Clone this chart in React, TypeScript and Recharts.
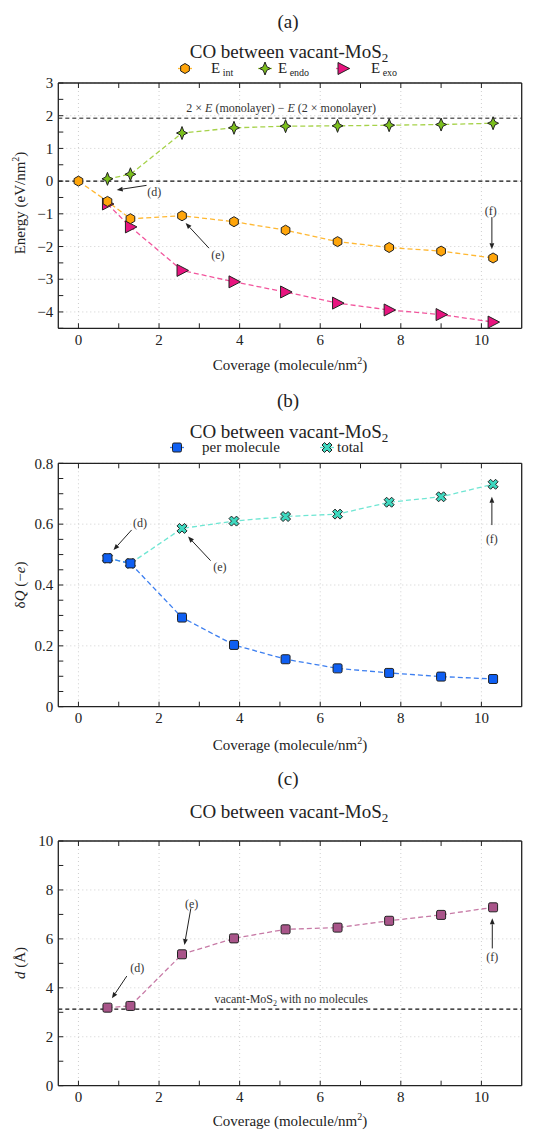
import React from "react";
import {
  LineChart,
  Line,
  XAxis,
  YAxis,
  CartesianGrid,
  ReferenceLine,
  ReferenceDot,
} from "recharts";

// ---- data ----
const coverage = [0, 0.72, 1.29, 2.57, 3.86, 5.14, 6.43, 7.71, 9.0, 10.29];
const eInt = [0, -0.62, -1.15, -1.06, -1.24, -1.5, -1.85, -2.03, -2.14, -2.35];
const eEndo = [null, 0.07, 0.21, 1.47, 1.63, 1.68, 1.69, 1.71, 1.73, 1.77];
const eExo = [null, -0.7, -1.4, -2.73, -3.08, -3.39, -3.73, -3.94, -4.08, -4.31];
const qPerMolecule = [null, 0.488, 0.471, 0.293, 0.203, 0.156, 0.126, 0.111, 0.099, 0.091];
const qTotal = [null, 0.488, 0.471, 0.586, 0.61, 0.625, 0.633, 0.672, 0.69, 0.731];
const distance = [null, 3.19, 3.26, 5.37, 6.02, 6.39, 6.46, 6.74, 6.98, 7.29];

const monolayerDiff = 1.92;
const vacantBaseline = 3.13;

const xTicks = [0, 1, 2, 3, 4, 5, 6, 7, 8, 9, 10];
const xGrid = [0, 2, 4, 6, 8, 10];
const energyTicks = [-4.5, -4, -3.5, -3, -2.5, -2, -1.5, -1, -0.5, 0, 0.5, 1, 1.5, 2, 2.5, 3];
const energyGrid = [-4, -3, -2, -1, 0, 1, 2, 3];
const chargeTicks = [0, 0.05, 0.1, 0.15, 0.2, 0.25, 0.3, 0.35, 0.4, 0.45, 0.5, 0.55, 0.6, 0.65, 0.7, 0.75, 0.8];
const chargeGrid = [0.2, 0.4, 0.6, 0.8];
const distTicks = [0, 1, 2, 3, 4, 5, 6, 7, 8, 9, 10];
const distGrid = [2, 4, 6, 8, 10];

// annotations: text position and arrow (from -> to), in data units
const annotA = [
  { label: "(d)", tx: 1.88, ty: -0.32, x1: 1.69, y1: -0.13, x2: 0.95, y2: -0.27 },
  { label: "(e)", tx: 3.46, ty: -2.25, x1: 3.24, y1: -2.05, x2: 2.66, y2: -1.28 },
  { label: "(f)", tx: 10.23, ty: -0.9, x1: 10.26, y1: -1.1, x2: 10.26, y2: -2.08 },
];
const annotB = [
  { label: "(d)", tx: 1.53, ty: 0.603, x1: 1.32, y1: 0.581, x2: 0.87, y2: 0.515 },
  { label: "(e)", tx: 3.51, ty: 0.46, x1: 3.28, y1: 0.48, x2: 2.72, y2: 0.559 },
  { label: "(f)", tx: 10.26, ty: 0.551, x1: 10.26, y1: 0.597, x2: 10.26, y2: 0.69 },
];
const annotC = [
  { label: "(d)", tx: 1.46, ty: 4.82, x1: 1.2, y1: 4.48, x2: 0.83, y2: 3.57 },
  { label: "(e)", tx: 2.81, ty: 7.43, x1: 2.79, y1: 7.25, x2: 2.63, y2: 5.75 },
  { label: "(f)", tx: 10.27, ty: 5.27, x1: 10.27, y1: 5.61, x2: 10.27, y2: 6.84 },
];

const rowsA = coverage.map((x, i) => ({ x, int: eInt[i], endo: eEndo[i], exo: eExo[i] }));
const rowsB = coverage.map((x, i) => ({ x, per: qPerMolecule[i], total: qTotal[i] }));
const rowsC = coverage.map((x, i) => ({ x, d: distance[i] }));

const FONT = '"Liberation Serif", "Times New Roman", serif';
const AX = "#222";

// ---- markers ----
const hexagon = (cx: number, cy: number, fill: string) => {
  const pts = [0, 1, 2, 3, 4, 5]
    .map((k) => {
      const a = ((-90 + 60 * k) * Math.PI) / 180;
      return `${cx + 5 * Math.cos(a)},${cy + 5 * Math.sin(a)}`;
    })
    .join(" ");
  return <polygon points={pts} fill={fill} stroke="#222" strokeWidth={1} />;
};
const star4 = (cx: number, cy: number, fill: string) => {
  const p = [
    [0, -6.5], [1.8, -1.8], [5.5, 0], [1.8, 1.8],
    [0, 6.5], [-1.8, 1.8], [-5.5, 0], [-1.8, -1.8],
  ];
  return (
    <polygon
      points={p.map(([a, b]) => `${cx + a},${cy + b}`).join(" ")}
      fill={fill}
      stroke="#222"
      strokeWidth={1}
      strokeLinejoin="round"
    />
  );
};
const triRight = (cx: number, cy: number, fill: string) => (
  <polygon
    points={`${cx - 5},${cy - 6} ${cx + 6.5},${cy} ${cx - 5},${cy + 6}`}
    fill={fill}
    stroke="#222"
    strokeWidth={1}
    strokeLinejoin="round"
  />
);
const square = (cx: number, cy: number, fill: string) => (
  <rect x={cx - 4.5} y={cy - 4.5} width={9} height={9} rx={1.5} fill={fill} stroke="#222" strokeWidth={1} />
);
const xcross = (cx: number, cy: number, fill: string) => {
  const p = [
    [-1, -2], [0, -1], [1, -2], [2, -1], [1, 0], [2, 1],
    [1, 2], [0, 1], [-1, 2], [-2, 1], [-1, 0], [-2, -1],
  ];
  return (
    <polygon
      points={p.map(([a, b]) => `${cx + a * 2.5},${cy + b * 2.5}`).join(" ")}
      fill={fill}
      stroke="#222"
      strokeWidth={1}
      strokeLinejoin="round"
    />
  );
};

const makeDot =
  (shape: (cx: number, cy: number, fill: string) => any, fill: string) => (props: any) => {
    const { cx, cy, index, value } = props;
    if (cx == null || cy == null || value == null) return <g key={`n${index}`} />;
    return <g key={`d${index}`}>{shape(cx, cy, fill)}</g>;
  };

// ---- ticks ----
const fmtNum = (v: number) => (v < 0 ? `\u2212${Math.abs(v)}` : `${v}`);
const isMultiple = (v: number, step: number) => Math.abs(v / step - Math.round(v / step)) < 1e-6;

const XTick = (props: any) => {
  const { x, y, payload } = props;
  if (!isMultiple(payload.value, 2)) return <g />;
  return (
    <text x={x} y={y} dy="0.71em" textAnchor="middle" fontSize={15} fontFamily={FONT} fill={AX}>
      {payload.value}
    </text>
  );
};
const makeYTick = (step: number) => (props: any) => {
  const { x, y, payload } = props;
  if (!isMultiple(payload.value, step)) return <g />;
  return (
    <text x={x} y={y} dy="0.35em" textAnchor="end" fontSize={15} fontFamily={FONT} fill={AX}>
      {fmtNum(payload.value)}
    </text>
  );
};
const NoTick = () => <g />;

const Arrow = (props: any) => {
  const { x1, y1, x2, y2 } = props;
  const ang = Math.atan2(y2 - y1, x2 - x1);
  const L = 6;
  const W = 2.4;
  const bx = x2 - L * Math.cos(ang);
  const by = y2 - L * Math.sin(ang);
  const px = -Math.sin(ang) * W;
  const py = Math.cos(ang) * W;
  return (
    <g>
      <line x1={x1} y1={y1} x2={bx} y2={by} stroke="#222" strokeWidth={1} />
      <polygon points={`${x2},${y2} ${bx + px},${by + py} ${bx - px},${by - py}`} fill="#222" />
    </g>
  );
};
const textShape = (label: any, size = 12) => (props: any) => (
  <text x={props.cx} y={props.cy} dy="0.35em" textAnchor="middle" fontSize={size} fontFamily={FONT} fill="#333">
    {label}
  </text>
);

const renderAnnotations = (list: typeof annotA, yId: string) =>
  list.flatMap((a, i) => [
    <ReferenceLine
      key={`al${i}`}
      yAxisId={yId}
      segment={[
        { x: a.x1, y: a.y1 },
        { x: a.x2, y: a.y2 },
      ]}
      shape={Arrow}
    />,
    <ReferenceDot key={`at${i}`} yAxisId={yId} x={a.tx} y={a.ty} r={0} shape={textShape(a.label)} />,
  ]);

// shared frame: bottom labelled axis, top/right mirrored tick-only axes
const frame = (domain: number[], ticks: number[], labelStep: number) => [
  <XAxis
    key="xb"
    type="number"
    dataKey="x"
    domain={[-0.5, 11]}
    ticks={xTicks}
    interval={0}
    tick={XTick}
    tickSize={-5}
    tickMargin={11}
    height={30}
    axisLine={{ stroke: AX, strokeWidth: 1.3 }}
    tickLine={{ stroke: AX }}
  />,
  <XAxis
    key="xt"
    xAxisId="top"
    orientation="top"
    type="number"
    dataKey="x"
    domain={[-0.5, 11]}
    ticks={xTicks}
    interval={0}
    tick={NoTick}
    tickSize={-5}
    height={1}
    axisLine={{ stroke: AX, strokeWidth: 1.3 }}
    tickLine={{ stroke: AX }}
  />,
  <YAxis
    key="yl"
    yAxisId="l"
    type="number"
    domain={domain}
    ticks={ticks}
    interval={0}
    tick={makeYTick(labelStep)}
    tickSize={-5}
    tickMargin={10}
    width={40}
    axisLine={{ stroke: AX, strokeWidth: 1.3 }}
    tickLine={{ stroke: AX }}
  />,
  <YAxis
    key="yr"
    yAxisId="r"
    orientation="right"
    type="number"
    domain={domain}
    ticks={ticks}
    interval={0}
    tick={NoTick}
    tickSize={-5}
    width={1}
    axisLine={{ stroke: AX, strokeWidth: 1.3 }}
    tickLine={{ stroke: AX }}
  />,
];

const lineProps = {
  isAnimationActive: false,
  strokeWidth: 1.3,
  strokeDasharray: "5 3",
  activeDot: false as const,
  connectNulls: false,
};

const XLabel = ({ y }: { y: number }) => (
  <text x={290} y={y} textAnchor="middle" fontSize={15} fontFamily={FONT} fill={AX}>
    Coverage (molecule/nm<tspan fontSize={10} dy={-6}>2</tspan>
    <tspan dy={6}>)</tspan>
  </text>
);
const Heads = ({ letter, letterY }: { letter: string; letterY: number }) => (
  <>
    <text x={288} y={letterY} textAnchor="middle" fontSize={19} fontFamily={FONT} fill={AX}>
      {letter}
    </text>
    <text x={289} y={58} textAnchor="middle" fontSize={19} fontFamily={FONT} fill={AX}>
      CO between vacant-MoS<tspan fontSize={13} dy={4}>2</tspan>
    </text>
  </>
);
const overlayStyle: React.CSSProperties = { position: "absolute", left: 0, top: 0, pointerEvents: "none" };

function PanelA() {
  return (
    <div style={{ position: "absolute", left: 0, top: 0, width: 541, height: 380 }}>
      <LineChart width={541} height={380} data={rowsA} margin={{ top: 82, right: 18.3, bottom: 21.7, left: 18.3 }}>
        <CartesianGrid
          yAxisId="l"
          stroke="#cfcfcf"
          strokeDasharray="1 3"
          horizontalValues={energyGrid}
          verticalValues={xGrid}
        />
        {frame([-4.5, 3], energyTicks, 1)}
        <ReferenceLine yAxisId="l" y={monolayerDiff} stroke="#666" strokeWidth={1.6} strokeDasharray="4 3" />
        <ReferenceLine yAxisId="l" y={0} stroke="#111" strokeWidth={1.2} strokeDasharray="4 3" />
        <ReferenceDot
          yAxisId="l"
          x={5.03}
          y={2.24}
          r={0}
          shape={textShape(
            <>
              2 × <tspan fontStyle="italic">E</tspan> (monolayer) − <tspan fontStyle="italic">E</tspan> (2 × monolayer)
            </>
          )}
        />
        <Line {...lineProps} yAxisId="l" dataKey="endo" stroke="#a6d24a" dot={makeDot(star4, "#7bbf1c")} />
        <Line {...lineProps} yAxisId="l" dataKey="exo" stroke="#f2559d" dot={makeDot(triRight, "#e8147f")} />
        <Line {...lineProps} yAxisId="l" dataKey="int" stroke="#ffb833" dot={makeDot(hexagon, "#ffa50a")} />
        {renderAnnotations(annotA, "l")}
      </LineChart>
      <svg width={541} height={380} style={overlayStyle}>
        <Heads letter="(a)" letterY={28} />
        <g fontFamily={FONT} fontSize={15} fill={AX}>
          <line x1={178} y1={68.5} x2={192} y2={68.5} stroke="#ffb833" strokeWidth={1.3} />
          {hexagon(185, 68.5, "#ffa50a")}
          <text x={211} y={73}>
            E<tspan fontSize={10} dy={3}> int</tspan>
          </text>
          <line x1={258} y1={68.5} x2={272} y2={68.5} stroke="#a6d24a" strokeWidth={1.3} />
          {star4(265, 68.5, "#7bbf1c")}
          <text x={278} y={73}>
            E<tspan fontSize={10} dy={3}> endo</tspan>
          </text>
          <line x1={336} y1={68.5} x2={350} y2={68.5} stroke="#f2559d" strokeWidth={1.3} />
          {triRight(343, 68.5, "#e8147f")}
          <text x={371} y={73}>
            E<tspan fontSize={10} dy={3}> exo</tspan>
          </text>
        </g>
        <text transform="translate(20,203) rotate(-90)" y={5} textAnchor="middle" fontSize={15} fontFamily={FONT} fill={AX}>
          Energy (eV/nm<tspan fontSize={10} dy={-6}>2</tspan>
          <tspan dy={6}>)</tspan>
        </text>
        <XLabel y={370} />
      </svg>
    </div>
  );
}

function PanelB() {
  return (
    <div style={{ position: "absolute", left: 0, top: 380, width: 541, height: 380 }}>
      <LineChart width={541} height={380} data={rowsB} margin={{ top: 82.3, right: 18.3, bottom: 23.3, left: 18.3 }}>
        <CartesianGrid
          yAxisId="l"
          stroke="#cfcfcf"
          strokeDasharray="1 3"
          horizontalValues={chargeGrid}
          verticalValues={xGrid}
        />
        {frame([0, 0.8], chargeTicks, 0.2)}
        <Line {...lineProps} yAxisId="l" dataKey="total" stroke="#6fe6d3" dot={makeDot(xcross, "#3ed9c0")} />
        <Line {...lineProps} yAxisId="l" dataKey="per" stroke="#3d7ff0" dot={makeDot(square, "#0f5ff2")} />
        {renderAnnotations(annotB, "l")}
      </LineChart>
      <svg width={541} height={380} style={overlayStyle}>
        <Heads letter="(b)" letterY={26.5} />
        <g fontFamily={FONT} fontSize={15} fill={AX}>
          <line x1={170} y1={67.5} x2={184} y2={67.5} stroke="#3d7ff0" strokeWidth={1.3} />
          {square(177, 67.5, "#0f5ff2")}
          <text x={202} y={72}>per molecule</text>
          <line x1={320} y1={67.5} x2={334} y2={67.5} stroke="#6fe6d3" strokeWidth={1.3} />
          {xcross(327, 67.5, "#3ed9c0")}
          <text x={337} y={72}>total</text>
        </g>
        <text transform="translate(20,205) rotate(-90)" y={5} textAnchor="middle" fontSize={15} fontFamily={FONT} fill={AX}>
          δ<tspan fontStyle="italic">Q</tspan> (−<tspan fontStyle="italic">e</tspan>)
        </text>
        <XLabel y={370} />
      </svg>
    </div>
  );
}

function PanelC() {
  return (
    <div style={{ position: "absolute", left: 0, top: 760, width: 541, height: 371 }}>
      <LineChart width={541} height={371} data={rowsC} margin={{ top: 80, right: 18.3, bottom: 15.3, left: 18.3 }}>
        <CartesianGrid
          yAxisId="l"
          stroke="#cfcfcf"
          strokeDasharray="1 3"
          horizontalValues={distGrid}
          verticalValues={xGrid}
        />
        {frame([0, 10], distTicks, 2)}
        <ReferenceLine yAxisId="l" y={vacantBaseline} stroke="#111" strokeWidth={1.2} strokeDasharray="4 3" />
        <ReferenceDot
          yAxisId="l"
          x={5.28}
          y={3.54}
          r={0}
          shape={textShape(
            <>
              vacant-MoS<tspan fontSize={8} dy={3}>2</tspan>
              <tspan dy={-3}> with no molecules</tspan>
            </>
          )}
        />
        <Line {...lineProps} yAxisId="l" dataKey="d" stroke="#c77aa6" dot={makeDot(square, "#a9558a")} />
        {renderAnnotations(annotC, "l")}
      </LineChart>
      <svg width={541} height={371} style={overlayStyle}>
        <Heads letter="(c)" letterY={25} />
        <text transform="translate(20,203) rotate(-90)" y={5} textAnchor="middle" fontSize={15} fontFamily={FONT} fill={AX}>
          <tspan fontStyle="italic">d</tspan> (Å)
        </text>
        <XLabel y={366} />
      </svg>
    </div>
  );
}

export default function App() {
  return (
    <div
      style={{
        position: "absolute",
        left: 0,
        top: 0,
        width: 541,
        height: 1131,
        background: "#fff",
        fontFamily: FONT,
      }}
    >
      <PanelA />
      <PanelB />
      <PanelC />
    </div>
  );
}
